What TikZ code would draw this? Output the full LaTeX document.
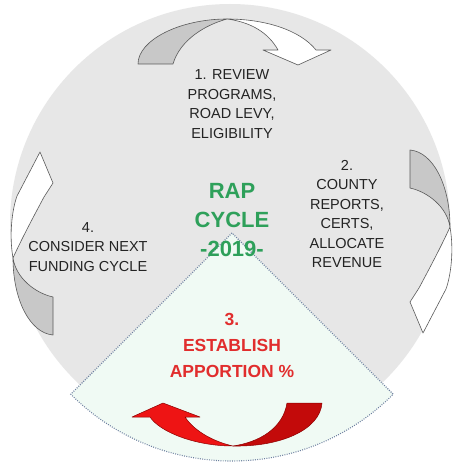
\documentclass[tikz,border=0pt]{standalone}
\usepackage{fontspec}
\setmainfont{Liberation Sans}
\definecolor{circ}{RGB}{231,231,231}
\definecolor{sect}{RGB}{240,250,244}
\definecolor{dotc}{RGB}{110,128,160}
\definecolor{agray}{RGB}{200,200,200}
\definecolor{aline}{RGB}{90,90,90}
\definecolor{rapgreen}{RGB}{46,160,90}
\definecolor{stepred}{RGB}{225,45,45}
\definecolor{txt}{RGB}{35,35,35}
\definecolor{redA}{RGB}{238,20,20}
\definecolor{redB}{RGB}{195,10,10}
\definecolor{redline}{RGB}{140,0,0}
\begin{document}
\begin{tikzpicture}[x=1pt,y=-1pt,
  arrowpart/.style={draw=aline,line width=0.6pt,line join=round},
  redpart/.style={draw=redline,line width=0.5pt,line join=round},
  steptext/.style={align=center,text=txt,font=\fontsize{14.5}{19.5}\selectfont,inner sep=0pt},
  titletext/.style={align=center,text=rapgreen,font=\bfseries\fontsize{22}{29}\selectfont,inner sep=0pt},
  redtext/.style={align=center,text=stepred,font=\bfseries\fontsize{17.5}{26}\selectfont,inner sep=0pt}]
\useasboundingbox (0,0) rectangle (456,468);
\fill[white] (0,0) rectangle (456,468);
% big circle
\fill[circ] (230,224) circle[radius=220];
% sector
\coordinate (apex) at (232,233);
\filldraw[fill=sect,draw=dotc,line width=1.1pt,dash pattern=on 0.9pt off 1.4pt]
  (apex) -- ++(135:228) arc[start angle=135,end angle=45,radius=228] -- cycle;
% arrow 1 (top)
\filldraw[arrowpart,fill=agray] (138,64) .. controls (138,40) and (180,19) .. (227,19)
  .. controls (205,25) and (180,40) .. (173,64) -- cycle;
\filldraw[arrowpart,fill=white] (227,19) .. controls (265,19) and (300,30) .. (316,50)
  -- (331,50) -- (298,65) -- (263,50) -- (278,50) .. controls (268,32) and (250,22) .. (227,19) -- cycle;
% arrow 2 (right)
\filldraw[arrowpart,fill=agray] (410,150) .. controls (433,152) and (450,185) .. (450,227)
  .. controls (447,207) and (428,192) .. (410,188) -- cycle;
\filldraw[arrowpart,fill=white] (450,227) .. controls (454,250) and (451,275) .. (446,289)
  -- (423,333) -- (410,302) -- (419,288) .. controls (427,273) and (441,247) .. (450,227) -- cycle;
% arrow 4 (left)
\filldraw[arrowpart,fill=agray] (53,335) .. controls (30,333) and (13,300) .. (13,258)
  .. controls (16,278) and (35,293) .. (53,297) -- cycle;
\filldraw[arrowpart,fill=white] (13,258) .. controls (9,235) and (12,210) .. (17,196)
  -- (40,152) -- (53,183) -- (44,197) .. controls (36,212) and (22,238) .. (13,258) -- cycle;
% arrow 3 (red, bottom)
\filldraw[redpart,fill=redB] (322,403) .. controls (320,430) and (280,447) .. (233,446)
  .. controls (260,442) and (283,428) .. (287,403) -- cycle;
\filldraw[redpart,fill=redA] (233,446) .. controls (195,446) and (160,432) .. (150,417)
  -- (132,417) -- (163,403) -- (200,417) -- (185,417) .. controls (195,432) and (215,442) .. (233,446) -- cycle;
% texts
\node[steptext] (s1) at (232,104) {1. REVIEW\\PROGRAMS,\\ROAD LEVY,\\ELIGIBILITY};
\node[steptext] (s2) at (347,214) {2.\\COUNTY\\REPORTS,\\CERTS,\\ALLOCATE\\REVENUE};
\node[steptext] (s4) at (88,247) {4.\\CONSIDER NEXT\\FUNDING CYCLE};
\node[titletext] (rap) at (232,220) {RAP\\CYCLE\\-2019-};
\node[redtext] (s3) at (232,345) {3.\\ESTABLISH\\APPORTION \%};
\end{tikzpicture}
\end{document}
